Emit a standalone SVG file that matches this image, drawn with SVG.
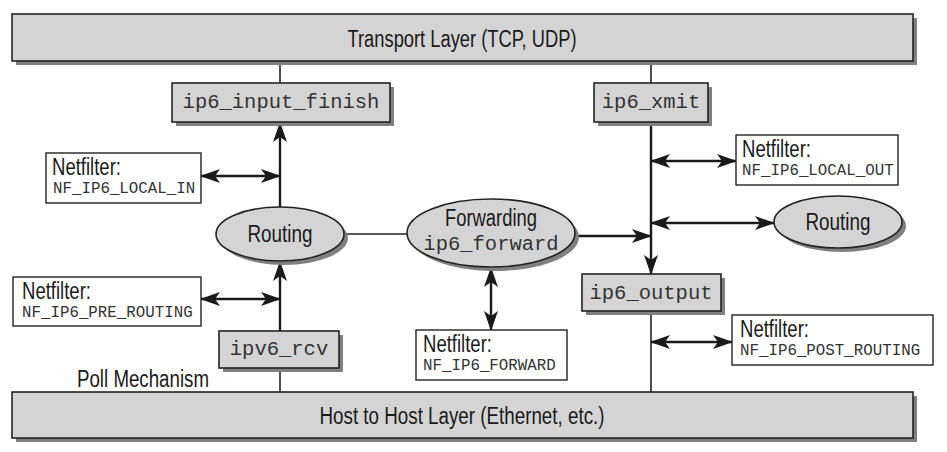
<svg xmlns="http://www.w3.org/2000/svg" width="947" height="452" viewBox="0 0 947 452">
<defs>
<style>
.bg{fill:#ffffff}
.gray{fill:#d4d4d4;stroke:#222;stroke-width:1.6}
.shadow{fill:#808080}
.white{fill:#ffffff;stroke:#222;stroke-width:1.4}
.sans{font-family:"Liberation Sans","Arial",sans-serif;fill:#1a1a1a}
.mono{font-family:"Liberation Mono","Courier New",monospace;fill:#333333}
.big{font-size:23px}
.nf{font-size:23px}
.m20{font-size:20.5px}
.m16{font-size:15.8px}
.thin{stroke:#222;stroke-width:1.6;fill:none}
.thick{stroke:#1a1a1a;stroke-width:2.4;fill:none}
</style>
<marker id="ah" viewBox="0 0 20 14" refX="19" refY="7" markerWidth="20" markerHeight="14" markerUnits="userSpaceOnUse" orient="auto-start-reverse">
<path d="M0,0 L20,7 L0,14 L5,7 Z" fill="#1a1a1a"/>
</marker>
</defs>
<rect class="bg" x="0" y="0" width="947" height="452"/>

<g id="connectors">
<line class="thin" x1="280" y1="61" x2="280" y2="83"/>
<line class="thin" x1="651" y1="61" x2="651" y2="83"/>
<line class="thick" x1="280" y1="207" x2="280" y2="123" marker-end="url(#ah)"/>
<line class="thick" x1="201" y1="176" x2="280" y2="176" marker-start="url(#ah)" marker-end="url(#ah)"/>
<line class="thin" x1="344" y1="234" x2="407" y2="234"/>
<line class="thick" x1="280" y1="331" x2="280" y2="262" marker-end="url(#ah)"/>
<line class="thick" x1="201" y1="299" x2="280" y2="299" marker-start="url(#ah)" marker-end="url(#ah)"/>
<line class="thin" x1="280" y1="368" x2="280" y2="392"/>
<line class="thick" x1="651" y1="122" x2="651" y2="274" marker-end="url(#ah)"/>
<line class="thick" x1="651" y1="161" x2="736" y2="161" marker-start="url(#ah)" marker-end="url(#ah)"/>
<line class="thick" x1="651" y1="223" x2="774" y2="223" marker-start="url(#ah)" marker-end="url(#ah)"/>
<line class="thick" x1="576" y1="236" x2="651" y2="236" marker-end="url(#ah)"/>
<line class="thick" x1="491" y1="268" x2="491" y2="330" marker-start="url(#ah)" marker-end="url(#ah)"/>
<line class="thin" x1="651" y1="311" x2="651" y2="392"/>
<line class="thick" x1="651" y1="342" x2="732" y2="342" marker-start="url(#ah)" marker-end="url(#ah)"/>
</g>

<g id="transport">
<rect class="shadow" x="16" y="18" width="901" height="47"/>
<rect class="gray" x="12" y="14" width="901" height="47"/>
<text class="sans big" x="462" y="47" text-anchor="middle" textLength="229" lengthAdjust="spacingAndGlyphs">Transport Layer (TCP, UDP)</text>
</g>

<g id="hosthost">
<rect class="shadow" x="16" y="396" width="901" height="46"/>
<rect class="gray" x="12" y="392" width="901" height="46"/>
<text class="sans big" x="462" y="424" text-anchor="middle" textLength="285" lengthAdjust="spacingAndGlyphs">Host to Host Layer (Ethernet, etc.)</text>
</g>

<g id="ip6_input_finish">
<rect class="shadow" x="176" y="87" width="218" height="39"/>
<rect class="gray" x="172" y="83" width="218" height="39"/>
<text class="mono m20" x="281" y="108" text-anchor="middle">ip6_input_finish</text>
</g>

<g id="ip6_xmit">
<rect class="shadow" x="598" y="87" width="114" height="39"/>
<rect class="gray" x="594" y="83" width="114" height="39"/>
<text class="mono m20" x="651" y="108" text-anchor="middle">ip6_xmit</text>
</g>

<g id="nf_local_in">
<rect class="white" x="46" y="153" width="155" height="50"/>
<text class="sans nf" x="52" y="175" textLength="69" lengthAdjust="spacingAndGlyphs">Netfilter:</text>
<text class="mono m16" x="53" y="193">NF_IP6_LOCAL_IN</text>
</g>

<g id="routing_in">
<ellipse class="shadow" cx="284" cy="238" rx="64" ry="27"/>
<ellipse class="gray" cx="280" cy="234" rx="64" ry="27"/>
<text class="sans big" x="280" y="242" text-anchor="middle" textLength="65" lengthAdjust="spacingAndGlyphs">Routing</text>
</g>

<g id="forwarding">
<ellipse class="shadow" cx="495" cy="237" rx="84" ry="34"/>
<ellipse class="gray" cx="491" cy="233" rx="84" ry="34"/>
<text class="sans big" x="491" y="226" text-anchor="middle" textLength="92" lengthAdjust="spacingAndGlyphs">Forwarding</text>
<text class="mono m20" x="491" y="250" text-anchor="middle">ip6_forward</text>
</g>

<g id="nf_local_out">
<rect class="white" x="736" y="135" width="162" height="50"/>
<text class="sans nf" x="742" y="157" textLength="69" lengthAdjust="spacingAndGlyphs">Netfilter:</text>
<text class="mono m16" x="742" y="175">NF_IP6_LOCAL_OUT</text>
</g>

<g id="routing_out">
<ellipse class="shadow" cx="842" cy="226" rx="64" ry="26"/>
<ellipse class="gray" cx="838" cy="222" rx="64" ry="26"/>
<text class="sans big" x="838" y="230" text-anchor="middle" textLength="65" lengthAdjust="spacingAndGlyphs">Routing</text>
</g>

<g id="nf_pre_routing">
<rect class="white" x="13" y="277" width="188" height="49"/>
<text class="sans nf" x="22" y="299" textLength="69" lengthAdjust="spacingAndGlyphs">Netfilter:</text>
<text class="mono m16" x="22" y="317">NF_IP6_PRE_ROUTING</text>
</g>

<g id="ip6_output">
<rect class="shadow" x="586" y="278" width="139" height="37"/>
<rect class="gray" x="582" y="274" width="139" height="37"/>
<text class="mono m20" x="651" y="299" text-anchor="middle">ip6_output</text>
</g>

<g id="ipv6_rcv">
<rect class="shadow" x="223" y="335" width="120" height="37"/>
<rect class="gray" x="219" y="331" width="120" height="37"/>
<text class="mono m20" x="279" y="355" text-anchor="middle">ipv6_rcv</text>
</g>

<g id="nf_forward">
<rect class="white" x="416" y="330" width="151" height="50"/>
<text class="sans nf" x="423" y="352" textLength="69" lengthAdjust="spacingAndGlyphs">Netfilter:</text>
<text class="mono m16" x="423" y="370">NF_IP6_FORWARD</text>
</g>

<g id="nf_post_routing">
<rect class="white" x="732" y="315" width="201" height="50"/>
<text class="sans nf" x="740" y="337" textLength="69" lengthAdjust="spacingAndGlyphs">Netfilter:</text>
<text class="mono m16" x="740" y="355">NF_IP6_POST_ROUTING</text>
</g>

<g id="poll">
<text class="sans big" x="77" y="387" textLength="132" lengthAdjust="spacingAndGlyphs">Poll Mechanism</text>
</g>
</svg>
